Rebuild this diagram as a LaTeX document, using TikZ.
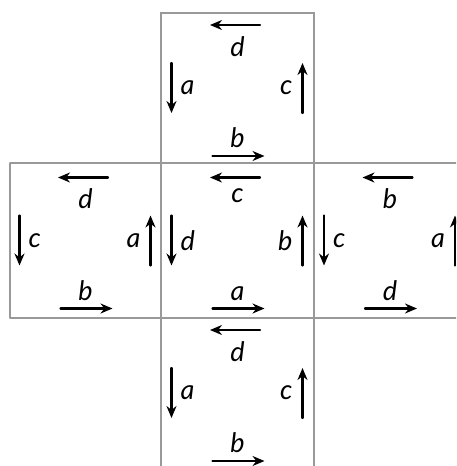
\documentclass[tikz,border=0pt]{standalone}
\usepackage{fontspec}
\setmainfont{Lato}
\usetikzlibrary{arrows.meta}

\begin{document}
\begin{tikzpicture}[x=1pt,y=-1pt,>={Stealth[length=12pt,width=10pt]},font=\fontsize{27}{30}\selectfont\itshape,line cap=round]
\tikzset{edge/.style={gray!80,line width=1.1pt},
  turn/.style={->,line width=2.3pt},
  lab/.style={inner sep=0pt}}
\useasboundingbox (0,0) rectangle (456,466);
\clip (0,0) rectangle (456,466);
% net outline
\draw[edge] (161,466) -- (161,13) -- (314,13) -- (314,466);
\draw[edge] (10,163) -- (456,163);
\draw[edge] (10,318) -- (456,318);
\draw[edge] (10,163) -- (10,318);
% top face
\begin{scope}[shift={(237.5,88)}]
\draw[turn] (22.5,-63) -- (-27.5,-63);
\node[lab,anchor=north] (up-t) at (0,-52) {d};
\draw[turn] (-66,-25) -- (-66,25);
\node[lab,anchor=west] (up-l) at (-57,0) {a};
\draw[turn] (65,25) -- (65,-25);
\node[lab,anchor=east] (up-r) at (55,0) {c};
\draw[turn] (-25,68) -- (27,68);
\node[lab,anchor=south] (up-b) at (0,60) {b};
\end{scope}
% left face
\begin{scope}[shift={(85.5,240.5)}]
\draw[turn] (22.5,-63) -- (-27.5,-63);
\node[lab,anchor=north] (west-t) at (0,-52) {d};
\draw[turn] (-66,-25) -- (-66,25);
\node[lab,anchor=west] (west-l) at (-57,0) {c};
\draw[turn] (65,25) -- (65,-25);
\node[lab,anchor=east] (west-r) at (55,0) {a};
\draw[turn] (-25,68) -- (27,68);
\node[lab,anchor=south] (west-b) at (0,60) {b};
\end{scope}
% middle face
\begin{scope}[shift={(237.5,240.5)}]
\draw[turn] (22.5,-63) -- (-27.5,-63);
\node[lab,anchor=north] (mid-t) at (0,-52) {c};
\draw[turn] (-66,-25) -- (-66,25);
\node[lab,anchor=west] (mid-l) at (-57,0) {d};
\draw[turn] (65,25) -- (65,-25);
\node[lab,anchor=east] (mid-r) at (55,0) {b};
\draw[turn] (-25,68) -- (27,68);
\node[lab,anchor=south] (mid-b) at (0,60) {a};
\end{scope}
% right face
\begin{scope}[shift={(390,240.5)}]
\draw[turn] (22.5,-63) -- (-27.5,-63);
\node[lab,anchor=north] (east-t) at (0,-52) {b};
\draw[turn] (-66,-25) -- (-66,25);
\node[lab,anchor=west] (east-l) at (-57,0) {c};
\draw[turn] (65,25) -- (65,-25);
\node[lab,anchor=east] (east-r) at (55,0) {a};
\draw[turn] (-25,68) -- (27,68);
\node[lab,anchor=south] (east-b) at (0,60) {d};
\end{scope}
% bottom face
\begin{scope}[shift={(237.5,393)}]
\draw[turn] (22.5,-63) -- (-27.5,-63);
\node[lab,anchor=north] (down-t) at (0,-52) {d};
\draw[turn] (-66,-25) -- (-66,25);
\node[lab,anchor=west] (down-l) at (-57,0) {a};
\draw[turn] (65,25) -- (65,-25);
\node[lab,anchor=east] (down-r) at (55,0) {c};
\draw[turn] (-25,68) -- (27,68);
\node[lab,anchor=south] (down-b) at (0,60) {b};
\end{scope}
\end{tikzpicture}
\end{document}
